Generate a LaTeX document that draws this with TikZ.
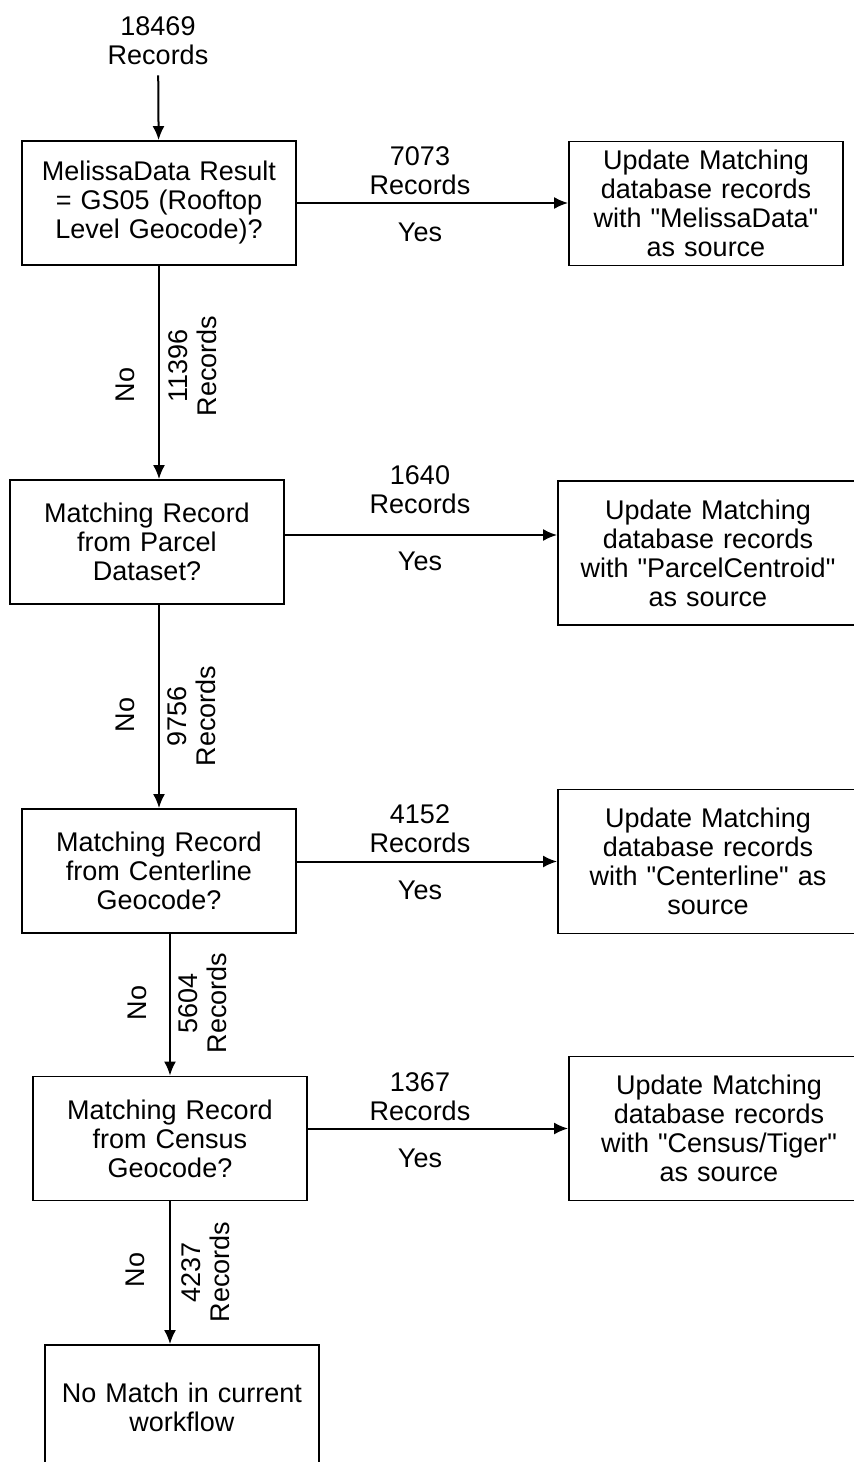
\documentclass[tikz,border=0pt]{standalone}
\usepackage{fontspec}
\newfontfamily\chartfont{Liberation Sans}
\usetikzlibrary{shapes, arrows.meta, positioning}

\begin{document}
\begin{tikzpicture}[
	x=0.5pt, y=-0.5pt,
	font=\chartfont\fontsize{13.5}{14.5}\selectfont,
	block/.style={rectangle, draw, line width=0.9pt, fill=white,
		text width=137pt, inner sep=0pt, text centered, minimum height=62pt},
	wide/.style={block, text width=150pt, minimum height=72pt},
	lbl/.style={align=center, inner sep=0pt},
	rot/.style={lbl, rotate=90},
	line/.style={draw, line width=1pt, -{Latex[length=7pt, width=6pt]}},
	]
	\useasboundingbox (0,0) rectangle (854,1462);
	
	\node [lbl] (in) at (158,41) {18469\\Records};
	\node [block] (q1) at (159,203) {MelissaData Result\\= GS05 (Rooftop\\Level Geocode)?};
	\node [block] (q2) at (147,542) {Matching Record\\from Parcel\\Dataset?};
	\node [block] (q3) at (159,871) {Matching Record\\from Centerline\\Geocode?};
	\node [block] (q4) at (170,1138.5) {Matching Record\\from Census\\Geocode?};
	\node [block] (q5) at (182,1407) {No Match in current\\workflow};
	
	\node [block] (u1) at (706,203.5) {Update Matching\\database records\\with "MelissaData"\\as source};
	\node [wide] (u2) at (708,553) {Update Matching\\database records\\with "ParcelCentroid"\\as source};
	\node [wide] (u3) at (708,861.5) {Update Matching\\database records\\with "Centerline" as\\source};
	\node [wide] (u4) at (719,1128.5) {Update Matching\\database records\\with "Census/Tiger"\\as source};
	
	\node [lbl] (n1) at (420,171) {7073\\Records};
	\node [lbl] (y1) at (420,232) {Yes};
	\node [lbl] (n2) at (420,490) {1640\\Records};
	\node [lbl] (y2) at (420,561) {Yes};
	\node [lbl] (n3) at (420,829) {4152\\Records};
	\node [lbl] (y3) at (420,890) {Yes};
	\node [lbl] (n4) at (420,1097) {1367\\Records};
	\node [lbl] (y4) at (420,1158) {Yes};
	
	\node [rot] (no1) at (125,385) {No};
	\node [rot] (c1) at (193,366) {11396\\Records};
	\node [rot] (no2) at (125,715) {No};
	\node [rot] (c2) at (192,716) {9756\\Records};
	\node [rot] (no3) at (137,1003) {No};
	\node [rot] (c3) at (203,1003) {5604\\Records};
	\node [rot] (no4) at (135,1270) {No};
	\node [rot] (c4) at (206,1272) {4237\\Records};
	
	\path [line, shorten <=5pt] (in) -- (q1);
	\path [line] (q1) -- (q1 |- q2.north);
	\path [line] (q3.north |- q2.south) -- (q3);
	\path [line] (q4.north |- q3.south) -- (q4);
	\path [line] (q4) -- (q4 |- q5.north);
	\path [line] (q1) -- (q1 -| u1.west);
	\path [line] ([yshift=3.5pt]q2.east) -- ([yshift=3.5pt]q2.east -| u2.west);
	\path [line] (q3.east |- u3) -- (u3);
	\path [line] (q4.east |- u4) -- (u4);
\end{tikzpicture}
\end{document}
